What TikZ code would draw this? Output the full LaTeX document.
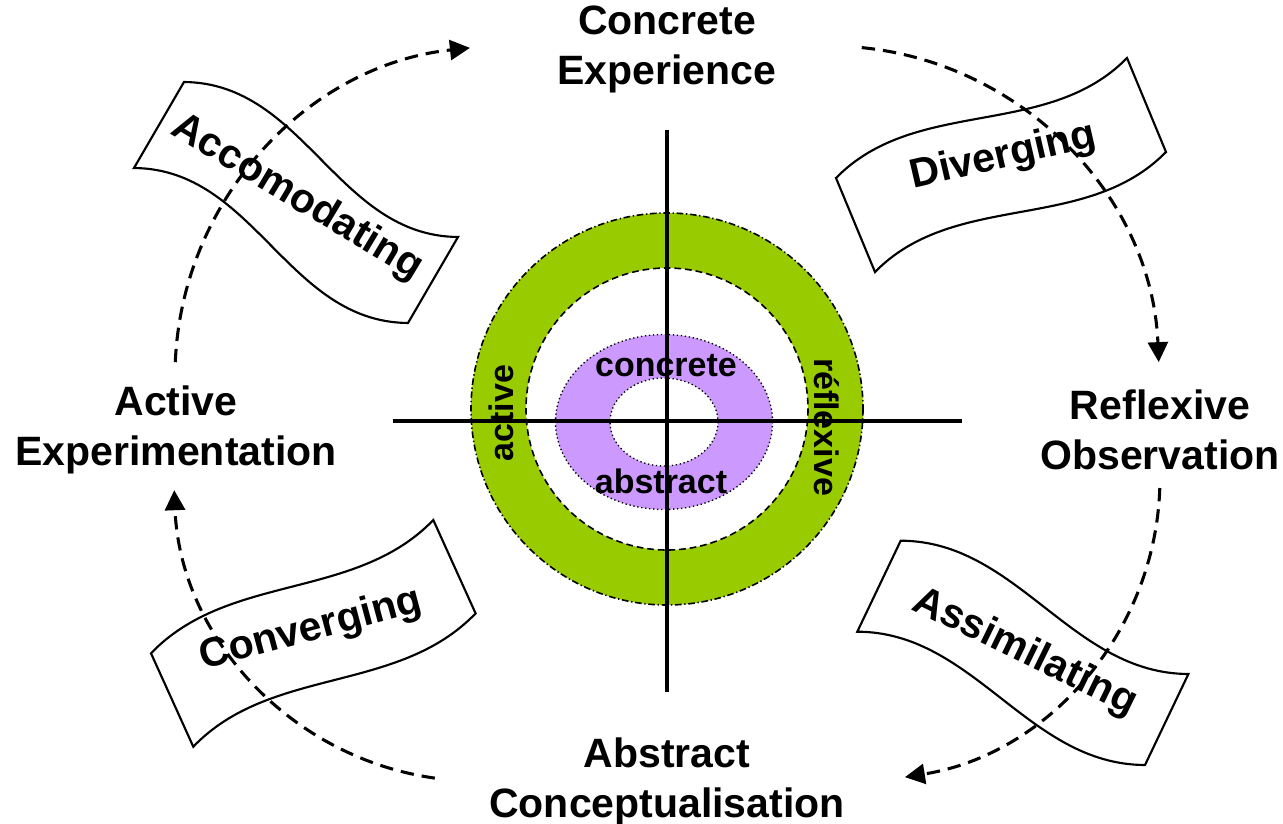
\documentclass[tikz,border=0pt]{standalone}
\usepackage{fontspec}
\setmainfont{Liberation Sans}
\usetikzlibrary{arrows.meta}
\definecolor{ringgreen}{HTML}{99CC00}
\definecolor{ringpurple}{HTML}{CC99FF}
\tikzset{
  lbl/.style={font=\fontsize{30.75}{37.5}\selectfont\bfseries, align=center, inner sep=0pt},
  inlbl/.style={font=\fontsize{25.5}{30}\selectfont\bfseries, inner sep=0pt},
  bannerpath/.style={draw, line width=1.6pt, line join=miter},
  cyc/.style={line width=2.3pt, dash pattern=on 10pt off 6pt, -{Triangle[length=15pt,width=15pt]}},
  axisline/.style={line width=2.7pt},
}
\begin{document}
\begin{tikzpicture}[x=0.75pt,y=-0.75pt]
\useasboundingbox (0,0) rectangle (1283,824);

% green ring
\fill[ringgreen, even odd rule] (667,409) circle[radius=196] (667,409) circle[radius=141];
\draw[line width=1.2pt, dash pattern=on 5pt off 2pt on 1pt off 2pt] (667,409) circle[radius=196];
\draw[line width=1.2pt, dash pattern=on 5pt off 3pt] (667,409) circle[radius=141];
% purple ring
\fill[ringpurple, even odd rule] (664,422) ellipse[x radius=108.5, y radius=87.5] (664,422) ellipse[x radius=54, y radius=44];
\draw[line width=1pt, dash pattern=on 1pt off 2pt] (664,422) ellipse[x radius=108.5, y radius=87.5];
\draw[line width=1pt, dash pattern=on 1pt off 2pt] (664,422) ellipse[x radius=54, y radius=44];

% axes
\coordinate (vtop) at (667,130);
\coordinate (vbot) at (667,692);
\coordinate (hleft) at (393,421);
\coordinate (hright) at (962,421);
\draw[axisline] (vtop) -- (vbot);
\draw[axisline] (hleft) -- (hright);

% inner labels
\node[inlbl] (concrete) at (666,366) {concrete};
\node[inlbl] (abstract) at (661,481) {abstract};
\node[inlbl, rotate=90] (active) at (501,413) {active};
\node[inlbl, rotate=-90] (reflexive) at (827,427) {réflexive};

% main labels
\node[lbl] (CE) at (667,49) {Concrete\\Experience};
\node[lbl] (RO) at (1160,430) {Reflexive\\Observation};
\node[lbl] (AC) at (667,782) {Abstract\\Conceptualisation};
\node[lbl] (AE) at (176,430) {Active\\Experimentation};

% banners
\draw[bannerpath] (184,82) .. controls (305,83) and (337,236) .. (458,237) -- (408,323) .. controls (287,322) and (255,169) .. (134,168) -- cycle;
\node[lbl, rotate=-31] (accom) at (297,198) {Accomodating};

\draw[bannerpath] (836,178) .. controls (915.8,96.5) and (1047.2,139.5) .. (1127,58) -- (1166,152) .. controls (1086.2,233.5) and (954.8,190.5) .. (875,272) -- cycle;
\node[lbl, rotate=13] (diverg) at (1003,157) {Diverging};

\draw[bannerpath] (900.7,540.7) .. controls (1017.7,540.9) and (1071.3,673.7) .. (1188.4,674) -- (1145,765) .. controls (1027.9,764.7) and (974.3,631.9) .. (857.3,631.7) -- cycle;
\node[lbl, rotate=-26] (assim) at (1025,653) {Assimilating};

\draw[bannerpath] (151,653.3) .. controls (228.5,572.5) and (355.6,600.8) .. (433.3,520) -- (475.6,613.4) .. controls (397.9,694.2) and (270.8,665.9) .. (193.3,746.7) -- cycle;
\node[lbl, rotate=15] (converg) at (311,630) {Converging};

% cycle arrows
\coordinate (a1s) at (175.3,362.2);
\coordinate (a2s) at (861.8,47.6);
\coordinate (a3s) at (1159.8,488);
\coordinate (a4s) at (434.8,778.1);
\draw[cyc] (a1s) arc[start angle=182.4, end angle=263.9, radius=330];
\draw[cyc] (a2s) arc[start angle=275.7, end angle=357.6, radius=330];
\draw[cyc] (a3s) arc[start angle=1.9, end angle=80.9, radius=303];
\draw[cyc] (a4s) arc[start angle=98, end angle=177.7, radius=303];
\end{tikzpicture}
\end{document}
